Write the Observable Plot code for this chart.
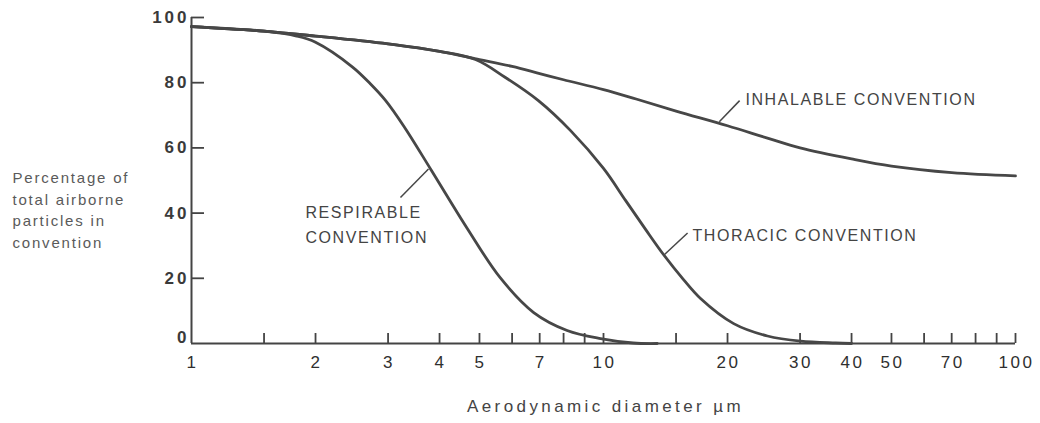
<!DOCTYPE html>
<html>
<head>
<meta charset="utf-8">
<script src="https://cdn.jsdelivr.net/npm/d3@7"></script>
<script src="https://cdn.jsdelivr.net/npm/@observablehq/plot@0.6"></script>
<style>
  html, body { margin: 0; padding: 0; background: #fff; }
  #chart svg { display: block; }
</style>
</head>
<body>
<div id="chart"></div>
<script>
// Sampling conventions for airborne particles: fraction (%) of total
// airborne particles in each convention, against aerodynamic diameter (µm).

const inhalableDiameter = [1, 1.5, 2, 3, 4, 5, 6, 7, 8, 10, 12, 15, 20, 25, 30, 40, 50, 70, 100];
const inhalablePercent  = [97.2, 95.8, 94.3, 91.9, 89.6, 87.1, 85.0, 82.8, 80.9, 77.9, 75.0, 71.3, 66.8, 63.0, 60.0, 56.6, 54.4, 52.4, 51.4];

const thoracicDiameter = [1, 1.5, 2, 3, 4, 4.89, 5.78, 6.95, 8.32, 10, 11.31, 12.65, 13.98, 15.64, 17.2, 20.7, 25, 30.1, 36.6, 40];
const thoracicPercent  = [97.2, 95.8, 94.3, 91.9, 89.6, 87.1, 81.6, 74.5, 65.3, 53.7, 43.9, 35.0, 27.3, 19.6, 13.8, 6.1, 2.3, 0.7, 0.15, 0];

const respirableDiameter = [1, 1.5, 1.8, 2, 2.46, 2.72, 2.96, 3.27, 3.81, 4.67, 5.62, 6.77, 8.16, 9.84, 11.8, 13.5];
const respirablePercent  = [97.2, 95.8, 94.3, 92.4, 84.8, 79.6, 74.5, 66.8, 53.4, 35.3, 20.1, 9.5, 4.0, 1.5, 0.15, 0];

// Axis ticks and labels
const xTickValues = [1.5, 2, 3, 4, 5, 6, 7, 8, 9, 10, 15, 20, 30, 40, 50, 60, 70, 80, 90, 100];
const xTickLabels = [1, 2, 3, 4, 5, 7, 10, 20, 30, 40, 50, 70, 100];
const yTickValues = [20, 40, 60, 80, 100];
const yTickLabels = [20, 40, 60, 80, 100];
const yBaseLabel = [0];

const xTitle = "Aerodynamic diameter µm";
const yTitle = "Percentage of\ntotal airborne\nparticles in\nconvention";

// Curve annotations: label anchor and leader line (diameter, percent)
const curveLabels = ["INHALABLE CONVENTION", "RESPIRABLE\nCONVENTION", "THORACIC CONVENTION"];
const labelDiameter = [22.1, 1.89, 16.44];
const labelPercent = [75.5, 37.2, 34.0];
const leaderFromDiameter = [19.1, 3.76, 13.98];
const leaderFromPercent = [68.0, 53.5, 27.0];
const leaderToDiameter = [21.4, 3.215, 16.0];
const leaderToPercent = [74.5, 44.8, 33.9];

const W = 1040, H = 423;
const margin = {top: 17, right: 25, bottom: 80, left: 191};
const frameW = W - margin.left - margin.right;
const frameH = H - margin.top - margin.bottom;

const ink = "#474747";
const curveStyle = {stroke: ink, strokeWidth: 2.8, curve: "catmull-rom"};

// letter spacing for each text mark, in the order the text marks appear below
const textTracking = ["2.5px", "3px", "3px", "3.4px", "1.8px", "1.6px"];

const chart = Plot.plot({
  width: W,
  height: H,
  marginTop: margin.top,
  marginRight: margin.right,
  marginBottom: margin.bottom,
  marginLeft: margin.left,
  style: {fontFamily: '"Liberation Sans", Arial, sans-serif', background: "#fff", color: "#333"},
  x: {type: "log", domain: [1, 100], label: null, axis: null},
  y: {domain: [0, 100], label: null, axis: null},
  marks: [
    // frame: left and bottom axis lines
    Plot.ruleX([1], {stroke: "#444", strokeWidth: 2}),
    Plot.ruleY([0], {stroke: "#444", strokeWidth: 2}),
    // inward tick marks
    Plot.tickX(xTickValues, {x: d => d, insetTop: frameH - 10, stroke: "#444", strokeWidth: 1.8}),
    Plot.tickY(yTickValues, {y: d => d, insetRight: frameW - 13, stroke: "#444", strokeWidth: 1.8}),
    // tick labels
    Plot.text(xTickLabels, {x: d => d, text: d => String(d), frameAnchor: "bottom", dy: 24, dx: 1, fontSize: 17, fill: "#2f2f2f"}),
    Plot.text(yTickLabels, {y: d => d, text: d => String(d), frameAnchor: "left", dx: -2, textAnchor: "end", fontSize: 17, fontWeight: "bold", fill: "#3a3a3a"}),
    Plot.text(yBaseLabel, {y: d => d, text: d => String(d), frameAnchor: "left", dx: -2, dy: -5.5, textAnchor: "end", fontSize: 17, fontWeight: "bold", fill: "#3a3a3a"}),
    // axis titles
    Plot.text([xTitle], {text: d => d, frameAnchor: "bottom", dy: 68, dx: 2, fontSize: 17, fill: "#444"}),
    Plot.text([yTitle], {text: d => d, frameAnchor: "left", dx: -179, dy: 28, textAnchor: "start", lineHeight: 1.43, fontSize: 15, fill: "#5a5a5a"}),
    // the three conventions
    Plot.line(inhalableDiameter, {x: d => d, y: (d, i) => inhalablePercent[i], ...curveStyle}),
    Plot.line(thoracicDiameter, {x: d => d, y: (d, i) => thoracicPercent[i], ...curveStyle}),
    Plot.line(respirableDiameter, {x: d => d, y: (d, i) => respirablePercent[i], ...curveStyle}),
    // annotations
    Plot.link(curveLabels, {
      x1: (d, i) => leaderFromDiameter[i], y1: (d, i) => leaderFromPercent[i],
      x2: (d, i) => leaderToDiameter[i], y2: (d, i) => leaderToPercent[i],
      stroke: ink, strokeWidth: 1.5
    }),
    Plot.text(curveLabels, {
      x: (d, i) => labelDiameter[i], y: (d, i) => labelPercent[i], text: d => d,
      textAnchor: "start", lineHeight: 1.5625, fontSize: 16, fill: "#444"
    })
  ]
});

// apply letter spacing to the text marks, in mark order
chart.querySelectorAll('g[aria-label="text"]').forEach((g, i) => {
  if (textTracking[i]) g.style.letterSpacing = textTracking[i];
});

document.getElementById("chart").append(chart);
</script>
</body>
</html>
